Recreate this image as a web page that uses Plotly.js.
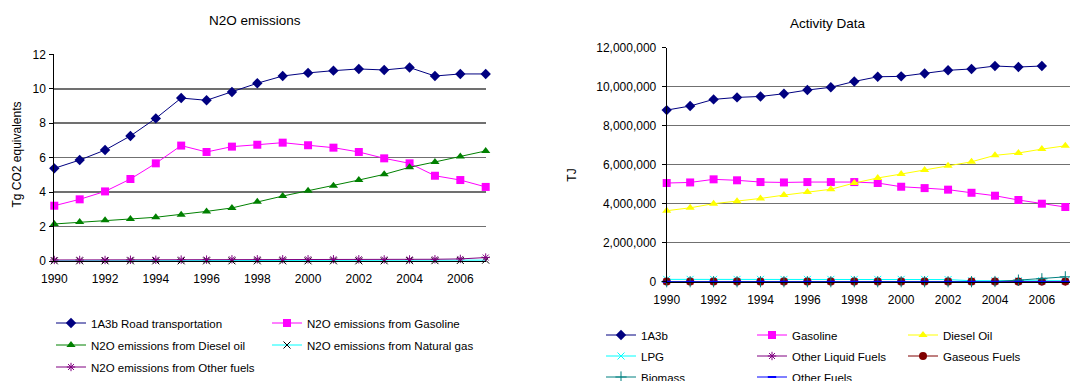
<!DOCTYPE html>
<html>
<head>
<meta charset="utf-8">
<script src="https://cdn.plot.ly/plotly-3.0.1.min.js"></script>
<style>
  html, body { margin: 0; padding: 0; background: #fff; overflow: hidden; }
  #chart { width: 1070px; height: 381px; }
</style>
</head>
<body>
<div id="chart"></div>
<script>
// ---------- Data ----------
const years = [1990,1991,1992,1993,1994,1995,1996,1997,1998,1999,2000,2001,2002,2003,2004,2005,2006,2007];

// N2O emissions (Tg CO2 equivalents)
const n2oRoad      = [5.38,5.86,6.44,7.26,8.28,9.46,9.33,9.81,10.32,10.74,10.92,11.05,11.15,11.09,11.23,10.74,10.86,10.86];
const n2oGasoline  = [3.21,3.58,4.04,4.76,5.67,6.70,6.33,6.64,6.75,6.87,6.72,6.58,6.33,5.96,5.67,4.95,4.70,4.30];
const n2oDiesel    = [2.15,2.26,2.36,2.44,2.54,2.69,2.88,3.08,3.44,3.77,4.08,4.37,4.70,5.03,5.44,5.75,6.06,6.39];
const n2oNatGas    = [0.01,0.01,0.01,0.01,0.01,0.01,0.01,0.01,0.01,0.01,0.01,0.01,0.01,0.01,0.02,0.02,0.03,0.05];
const n2oOther     = [0.06,0.06,0.06,0.07,0.07,0.08,0.08,0.10,0.10,0.10,0.10,0.10,0.10,0.09,0.09,0.10,0.12,0.20];

// Activity data (TJ)
const ad1A3b       = [8800000,9010000,9350000,9450000,9500000,9640000,9830000,9970000,10270000,10510000,10530000,10680000,10840000,10910000,11060000,11010000,11060000,null];
const adGasoline   = [5060000,5090000,5250000,5200000,5110000,5090000,5110000,5110000,5110000,5060000,4870000,4800000,4720000,4560000,4410000,4190000,4000000,3830000];
const adDiesel     = [3640000,3790000,4000000,4120000,4270000,4440000,4600000,4740000,5060000,5320000,5520000,5730000,5950000,6150000,6480000,6600000,6800000,6970000];
const adLPG        = [120000,120000,120000,120000,120000,120000,120000,120000,120000,120000,120000,120000,110000,50000,50000,50000,50000,50000];
const adOtherLiq   = [10000,10000,10000,10000,10000,10000,10000,10000,10000,10000,10000,10000,10000,10000,10000,10000,10000,10000];
const adGaseous    = [5000,5000,5000,5000,5000,5000,5000,5000,5000,5000,5000,5000,5000,5000,5000,5000,5000,5000];
const adBiomass    = [0,0,0,0,0,0,0,0,0,0,0,0,0,0,10000,80000,150000,250000];
const adOtherFuels = [0,0,0,0,0,0,0,0,0,0,0,0,0,0,0,0,0,0];

const leftNames  = ['1A3b Road transportation','N2O emissions from Gasoline','N2O emissions from Diesel oil','N2O emissions from Natural gas','N2O emissions from Other fuels'];
const rightNames = ['1A3b','Gasoline','Diesel Oil','LPG','Other Liquid Fuels','Gaseous Fuels','Biomass','Other Fuels'];

// ---------- Traces ----------
function tr(x, y, name, xa, ya, lg, lineColor, sym, mColor, mSize, mLine) {
  return {
    x: x, y: y, name: name, type: 'scatter', mode: 'lines+markers',
    xaxis: xa, yaxis: ya, legend: lg, cliponaxis: false,
    line: { color: lineColor, width: 1 },
    marker: { symbol: sym, color: mColor, size: mSize,
              line: mLine || { width: 0 } }
  };
}

const traces = [
  tr(years, n2oRoad,     leftNames[0], 'x', 'y', 'legend',  '#000080', 'diamond', '#000080', 8),
  tr(years, n2oGasoline, leftNames[1], 'x', 'y', 'legend',  '#FF00FF', 'square', '#FF00FF', 8),
  tr(years, n2oDiesel,   leftNames[2], 'x', 'y', 'legend2', '#008000', 'triangle-up', '#008000', 8),
  tr(years, n2oNatGas,   leftNames[3], 'x', 'y', 'legend2', '#00FFFF', 'x-thin-open', '#000000', 7, {color:'#000000', width:1}),
  tr(years, n2oOther,    leftNames[4], 'x', 'y', 'legend3', '#800080', 'asterisk-open', '#800080', 7, {color:'#800080', width:1}),

  tr(years, ad1A3b,       rightNames[0], 'x2', 'y2', 'legend4', '#000080', 'diamond', '#000080', 8),
  tr(years, adGasoline,   rightNames[1], 'x2', 'y2', 'legend4', '#FF00FF', 'square', '#FF00FF', 8),
  tr(years, adDiesel,     rightNames[2], 'x2', 'y2', 'legend4', '#FFFF00', 'triangle-up', '#FFFF00', 8),
  tr(years, adLPG,        rightNames[3], 'x2', 'y2', 'legend5', '#00FFFF', 'x-thin-open', '#00FFFF', 7, {color:'#00FFFF', width:1}),
  tr(years, adOtherLiq,   rightNames[4], 'x2', 'y2', 'legend5', '#800080', 'asterisk-open', '#800080', 7, {color:'#800080', width:1}),
  tr(years, adGaseous,    rightNames[5], 'x2', 'y2', 'legend5', '#800000', 'circle', '#800000', 8),
  tr(years, adBiomass,    rightNames[6], 'x2', 'y2', 'legend6', '#008080', 'cross-thin-open', '#008080', 8, {color:'#008080', width:1}),
  tr(years, adOtherFuels, rightNames[7], 'x2', 'y2', 'legend6', '#0000FF', 'line-ew-open', '#0000FF', 6, {color:'#0000FF', width:2})
];

// ---------- Layout ----------
const W = 1070, H = 381;
const FONT = 'Liberation Sans, Arial, sans-serif';
const px = v => v / W;
const py = v => 1 - v / H;
const gridC = '#707070';

function legendAt(x, y, ew) {
  return {
    orientation: 'h', x: px(x), y: py(y), xanchor: 'left', yanchor: 'middle',
    xref: 'paper', yref: 'paper', entrywidth: ew, entrywidthmode: 'pixels',
    font: { family: FONT, size: 11.5, color: '#000' },
    bgcolor: 'rgba(0,0,0,0)', borderwidth: 0, tracegroupgap: 0, itemwidth: 30
  };
}

const layout = {
  width: W, height: H,
  margin: { l: 0, r: 0, t: 0, b: 0, pad: 0, autoexpand: false },
  paper_bgcolor: '#fff', plot_bgcolor: 'rgba(0,0,0,0)',
  font: { family: FONT, size: 12, color: '#000' },
  showlegend: true,
  xaxis: {
    domain: [px(54.3), px(485.7)], range: [1990, 2007], anchor: 'y',
    tickmode: 'linear', tick0: 1990, dtick: 2, showgrid: false, zeroline: false,
    showline: true, linecolor: '#000', linewidth: 1, ticks: '', ticklabelstandoff: 7,
    tickfont: { family: FONT, size: 12 }
  },
  yaxis: {
    domain: [py(261), py(54.3)], range: [0, 12], anchor: 'x',
    tickmode: 'linear', tick0: 0, dtick: 2, showgrid: true, gridcolor: gridC, gridwidth: 1.5,
    zeroline: false, showline: true, linecolor: '#000', linewidth: 1, ticklabelstandoff: 1,
    ticks: 'outside', ticklen: 4, tickcolor: '#000', tickfont: { family: FONT, size: 12 }
  },
  yaxis3: {
    overlaying: 'y', side: 'right', anchor: 'x', range: [0, 12],
    showline: true, linecolor: '#c0c0c0', linewidth: 2,
    showticklabels: false, showgrid: false, zeroline: false, ticks: ''
  },
  xaxis2: {
    domain: [px(666.7), 1], range: [1990, 2007.2], anchor: 'y2',
    tickmode: 'linear', tick0: 1990, dtick: 2, showgrid: false, zeroline: false,
    showline: true, linecolor: '#000', linewidth: 1, ticks: '', ticklabelstandoff: 7,
    tickfont: { family: FONT, size: 12 }
  },
  yaxis2: {
    domain: [py(281.7), py(47.7)], range: [0, 12000000], anchor: 'x2',
    tickmode: 'linear', tick0: 0, dtick: 2000000, tickformat: ',d',
    showgrid: true, gridcolor: gridC, gridwidth: 1.5, ticklabelstandoff: 3,
    zeroline: false, showline: true, linecolor: '#000', linewidth: 1,
    ticks: 'outside', ticklen: 4, tickcolor: '#000', tickfont: { family: FONT, size: 12 }
  },
  legend:  legendAt(51, 323, 171),
  legend2: legendAt(51, 345, 171),
  legend3: legendAt(51, 367, 171),
  legend4: legendAt(601, 335, 106),
  legend5: legendAt(601, 356, 106),
  legend6: legendAt(601, 377, 106),
  annotations: [
    { text: 'N2O emissions', x: px(255), y: py(20), xref: 'paper', yref: 'paper',
      xanchor: 'center', yanchor: 'middle', showarrow: false, font: { family: FONT, size: 13.5 } },
    { text: 'Activity Data', x: px(827.7), y: py(23), xref: 'paper', yref: 'paper',
      xanchor: 'center', yanchor: 'middle', showarrow: false, font: { family: FONT, size: 13.5 } },
    { text: 'Tg CO2 equivalents', x: px(17), y: py(154.5), xref: 'paper', yref: 'paper',
      xanchor: 'center', yanchor: 'middle', textangle: -90, showarrow: false, font: { family: FONT, size: 12 } },
    { text: 'TJ', x: px(571.7), y: py(175), xref: 'paper', yref: 'paper',
      xanchor: 'center', yanchor: 'middle', textangle: -90, showarrow: false, font: { family: FONT, size: 12 } }
  ]
};

Plotly.newPlot('chart', traces, layout, { staticPlot: true, displayModeBar: false });
</script>
</body>
</html>
